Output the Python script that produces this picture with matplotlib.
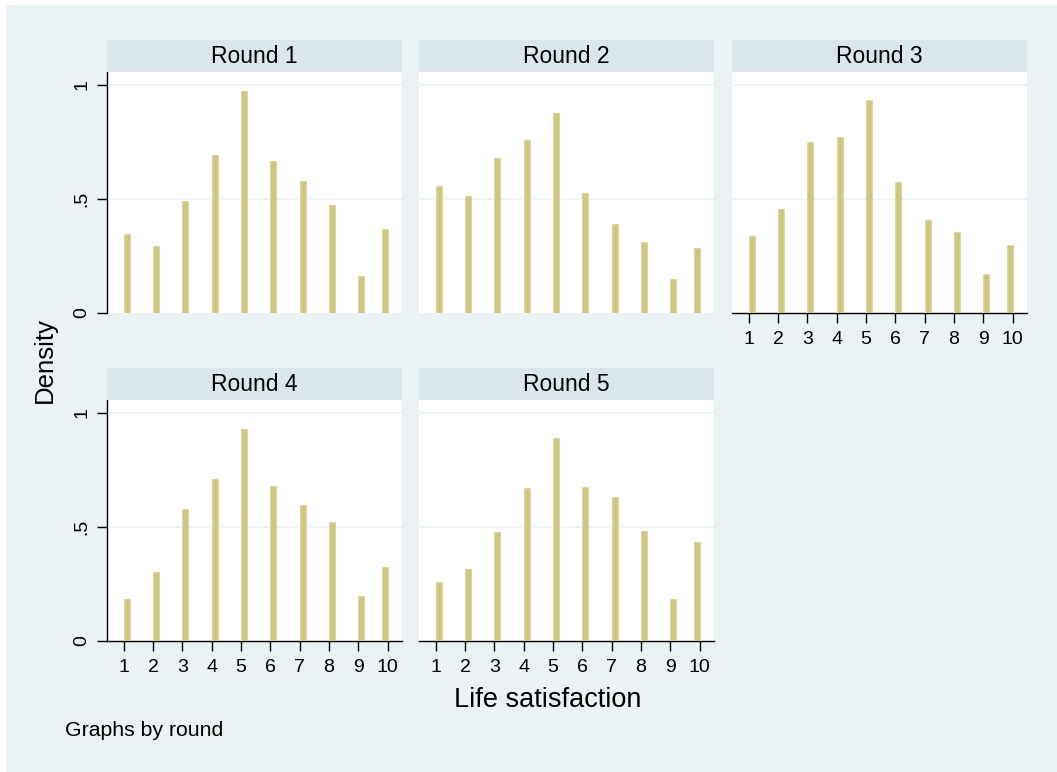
import numpy as np
import matplotlib
matplotlib.use("Agg")
import matplotlib.pyplot as plt
from matplotlib.patches import Rectangle

plt.rcParams['font.family'] = ['Liberation Sans', 'DejaVu Sans']

# life satisfaction scores and the density of each round
scores = np.arange(1, 11)
rounds = ['Round 1', 'Round 2', 'Round 3', 'Round 4', 'Round 5']
dens_r1 = [0.348, 0.295, 0.490, 0.693, 0.974, 0.667, 0.578, 0.472, 0.160, 0.366]
dens_r2 = [0.558, 0.512, 0.680, 0.756, 0.875, 0.527, 0.392, 0.311, 0.150, 0.286]
dens_r3 = [0.339, 0.457, 0.749, 0.770, 0.933, 0.574, 0.408, 0.355, 0.169, 0.297]
dens_r4 = [0.186, 0.303, 0.580, 0.708, 0.928, 0.677, 0.598, 0.520, 0.198, 0.323]
dens_r5 = [0.259, 0.316, 0.479, 0.670, 0.889, 0.675, 0.631, 0.483, 0.184, 0.435]
all_dens = [dens_r1, dens_r2, dens_r3, dens_r4, dens_r5]

yticks = [0, 0.5, 1]
ytick_labels = ['0', '.5', '1']

BG = '#EAF2F3'
STRIP = '#D9E6EB'
BAR = '#CEC686'
BAR_EDGE = '#DDD6A0'

W, H = 1057, 772
fig = plt.figure(figsize=(W / 100, H / 100), dpi=100)
fig.patch.set_facecolor('white')
fig.patches.append(Rectangle((6 / W, 0), 1, 1 - 5 / H, transform=fig.transFigure,
                             facecolor=BG, edgecolor='none', zorder=-10))

cols_x = [107, 419, 732]
plot_w = 295
rows_y = [(72, 313), (400, 641)]
strip_h = 32

# histogram bins of width 0.2 over [1, 10]; the top score lands in the last bin
bin_w = 0.2
bin_left = np.minimum(scores.astype(float), 10 - bin_w)

for i, (name, dens) in enumerate(zip(rounds, all_dens)):
    r, c = divmod(i, 3)
    x0 = cols_x[c]
    top, bot = rows_y[r]
    ax = fig.add_axes([x0 / W, 1 - bot / H, plot_w / W, (bot - top) / H])
    ax.set_facecolor('white')
    ax.bar(bin_left, dens, width=bin_w, align='edge', color=BAR,
           edgecolor=BAR_EDGE, linewidth=0.8, zorder=3)
    ax.set_xlim(0.43, 10.49)
    ax.set_ylim(0, 1.056)
    for g in [0.5, 1]:
        ax.axhline(g, color=BG, lw=1.2, zorder=1)
    for s in ax.spines.values():
        s.set_visible(False)

    show_y = (c == 0)
    show_x = (r == 1) or (i == 2)
    if show_y:
        ax.spines['left'].set_visible(True)
        ax.spines['left'].set_linewidth(1.0)
        ax.set_yticks(yticks)
        ax.set_yticklabels(ytick_labels, rotation=90, va='center')
        ax.tick_params(axis='y', length=7, width=1, pad=5, labelsize=14)
    else:
        ax.set_yticks([])
    if show_x:
        ax.spines['bottom'].set_visible(True)
        ax.spines['bottom'].set_linewidth(1.0)
        ax.set_xticks(scores)
        ax.tick_params(axis='x', length=7, width=1, pad=6, labelsize=14)
    else:
        ax.set_xticks([])

    # panel header strip
    sax = fig.add_axes([x0 / W, 1 - top / H, plot_w / W, strip_h / H])
    sax.set_facecolor(STRIP)
    sax.set_xticks([])
    sax.set_yticks([])
    for s in sax.spines.values():
        s.set_visible(False)
    sax.text(0.5, 0.48, name, ha='center', va='center', fontsize=16.5,
             transform=sax.transAxes)

fig.text(45 / W, 1 - 360 / H, 'Density', rotation=90, ha='center', va='center',
         fontsize=18.5)
fig.text(548 / W, 1 - 700 / H, 'Life satisfaction', ha='center', va='center',
         fontsize=19.5)
fig.text(65 / W, 1 - 730 / H, 'Graphs by round', ha='left', va='center',
         fontsize=15.3)

fig.savefig('out.png', dpi=100, facecolor=fig.get_facecolor())
